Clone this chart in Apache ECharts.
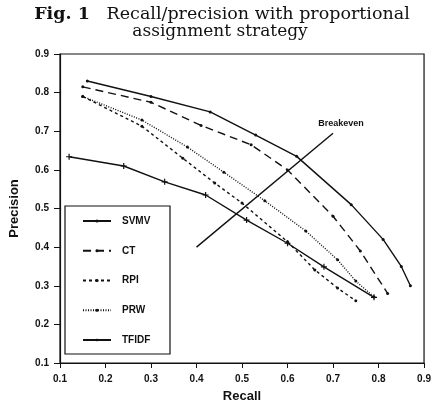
<!DOCTYPE html>
<html>
<head>
<meta charset="utf-8">
<script src="https://cdn.jsdelivr.net/npm/echarts@6/dist/echarts.min.js"></script>
<style>html,body{margin:0;padding:0;background:#fff}#c{width:434px;height:418px}</style>
</head>
<body>
<div id="c"></div>
<script>
var seriesNames = ['SVMV', 'CT', 'RPI', 'PRW', 'TFIDF'];
var svmvRecall = [0.16, 0.30, 0.43, 0.53, 0.62, 0.74, 0.81, 0.85, 0.87];
var svmvPrecision = [0.83, 0.79, 0.75, 0.69, 0.635, 0.51, 0.42, 0.35, 0.30];
var ctRecall = [0.15, 0.30, 0.41, 0.52, 0.60, 0.70, 0.76, 0.82];
var ctPrecision = [0.815, 0.775, 0.715, 0.665, 0.60, 0.48, 0.39, 0.28];
var rpiRecall = [0.15, 0.28, 0.37, 0.44, 0.50, 0.60, 0.66, 0.71, 0.75];
var rpiPrecision = [0.79, 0.713, 0.63, 0.566, 0.514, 0.414, 0.341, 0.294, 0.261];
var prwRecall = [0.15, 0.28, 0.38, 0.46, 0.55, 0.64, 0.71, 0.75, 0.79];
var prwPrecision = [0.79, 0.729, 0.659, 0.594, 0.52, 0.442, 0.367, 0.312, 0.271];
var tfidfRecall = [0.12, 0.24, 0.33, 0.42, 0.51, 0.60, 0.68, 0.79];
var tfidfPrecision = [0.634, 0.61, 0.569, 0.535, 0.47, 0.41, 0.349, 0.27];
var breakevenRecall = [0.40, 0.70];
var breakevenPrecision = [0.40, 0.695];
var tickValues = [0.1, 0.2, 0.3, 0.4, 0.5, 0.6, 0.7, 0.8, 0.9];

function pairs(xs, ys) { return xs.map(function (x, i) { return [x, ys[i]]; }); }

var INK = '#111';
var SERIF = 'DejaVu Serif';
var plusPath = 'path://M4,0h2v4h4v2h-4v4h-2v-4h-4v-2h4z';
function lineSeries(name, xs, ys, type, symbol, size) {
  return {
    name: name, type: 'line', data: pairs(xs, ys),
    symbol: symbol, symbolSize: size, showSymbol: true,
    lineStyle: { color: INK, width: 1.4, type: type },
    itemStyle: { color: INK },
    emphasis: { disabled: true }
  };
}
function tickFmt(v) {
  var t = tickValues.find(function (tv) { return Math.abs(tv - v) < 1e-6; });
  return t !== undefined ? t.toFixed(1) : '';
}

var chart = echarts.init(document.getElementById('c'));
chart.setOption({
  animation: false,
  title: [
    { text: '{b|Fig. 1}   Recall/precision with proportional', left: 217, top: 0, textAlign: 'center',
      textStyle: { fontFamily: SERIF, fontSize: 17.5, fontWeight: 'normal', color: INK,
        rich: { b: { fontFamily: SERIF, fontSize: 17.5, fontWeight: 'bold', color: INK } } } },
    { text: 'assignment strategy', left: 215, top: 18, textAlign: 'center',
      textStyle: { fontFamily: SERIF, fontSize: 17, fontWeight: 'normal', color: INK } }
  ],
  grid: { left: 58, right: 7, top: 54, bottom: 55, show: true, borderColor: INK, borderWidth: 1.2, containLabel: false },
  xAxis: {
    type: 'value', min: 0.1, max: 0.9, interval: 0.1,
    name: 'Recall', nameLocation: 'middle', nameGap: 27,
    nameTextStyle: { fontFamily: 'Liberation Sans', fontWeight: 'bold', fontSize: 13, color: INK },
    axisLine: { lineStyle: { color: INK, width: 1.2 } },
    axisTick: { show: true, length: 5, inside: false, lineStyle: { color: INK } },
    axisLabel: { margin: 11, color: INK, fontFamily: 'Liberation Sans', fontWeight: 'bold', fontSize: 10, formatter: tickFmt },
    splitLine: { show: false }
  },
  yAxis: {
    type: 'value', min: 0.1, max: 0.9, interval: 0.1,
    name: 'Precision', nameLocation: 'middle', nameGap: 39,
    nameTextStyle: { fontFamily: 'Liberation Sans', fontWeight: 'bold', fontSize: 13, color: INK },
    axisLine: { show: true, lineStyle: { color: INK, width: 1.2 } },
    axisTick: { show: true, length: 6, inside: false, lineStyle: { color: INK } },
    axisLabel: { margin: 11, color: INK, fontFamily: 'Liberation Sans', fontWeight: 'bold', fontSize: 10, formatter: tickFmt },
    splitLine: { show: false }
  },
  legend: {
    data: seriesNames, orient: 'vertical', left: 65, top: 206,
    padding: [10, 0, 0, 17], itemGap: 19.75, itemWidth: 28, itemHeight: 4,
    textStyle: { fontFamily: 'Liberation Sans', fontWeight: 'bold', fontSize: 10, color: INK, padding: [0, 0, 0, 6] },
    selectedMode: false
  },
  graphic: [
    { type: 'rect', shape: { x: 65, y: 206, width: 105, height: 148 },
      style: { fill: 'none', stroke: INK, lineWidth: 1.2 }, z: 10 }
  ],
  series: [
    lineSeries('SVMV', svmvRecall, svmvPrecision, 'solid', 'circle', 3),
    lineSeries('CT', ctRecall, ctPrecision, [8, 5], 'circle', 3),
    lineSeries('RPI', rpiRecall, rpiPrecision, [3, 3], 'circle', 3),
    lineSeries('PRW', prwRecall, prwPrecision, [1, 1.5], 'circle', 3),
    lineSeries('TFIDF', tfidfRecall, tfidfPrecision, 'solid', plusPath, 6),
    {
      name: 'Breakeven', type: 'line', data: pairs(breakevenRecall, breakevenPrecision),
      symbol: 'none', lineStyle: { color: INK, width: 1.4 },
      emphasis: { disabled: true },
      endLabel: { show: true, formatter: 'Breakeven', color: INK, fontFamily: 'Liberation Sans', fontWeight: 'bold', fontSize: 9,
        align: 'center', verticalAlign: 'bottom', offset: [0, -5] }
    }
  ]
});
</script>
</body>
</html>
